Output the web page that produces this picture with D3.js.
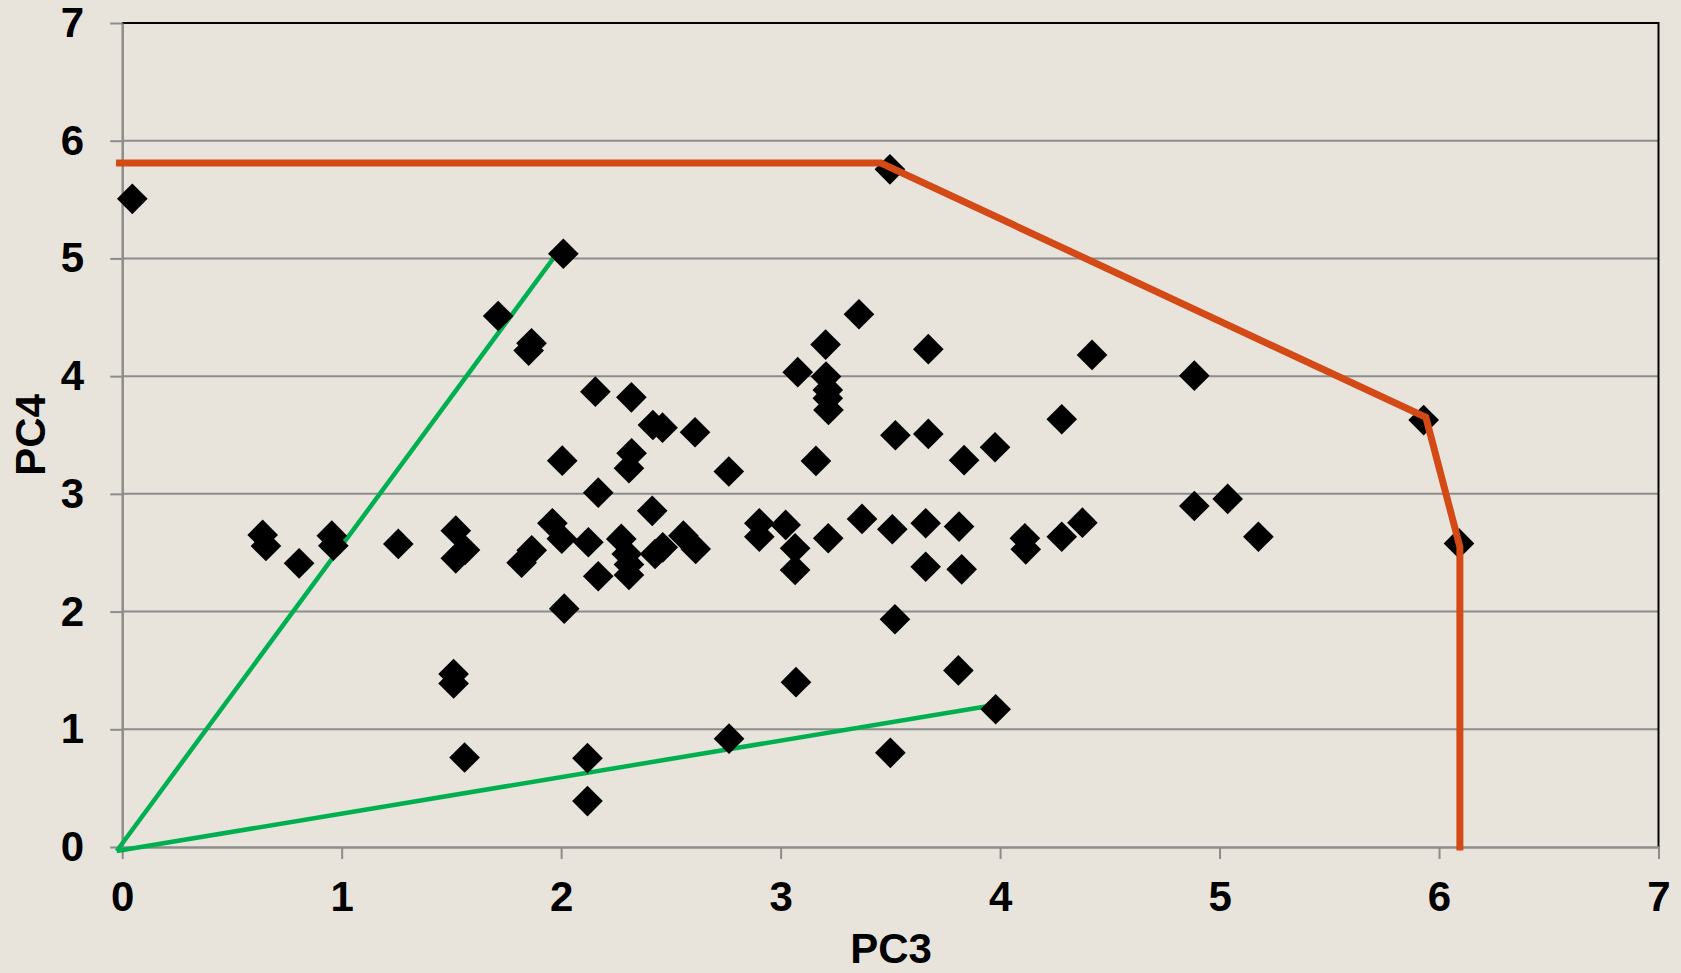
<!DOCTYPE html>
<html lang="en">
<head>
    <meta charset="UTF-8">
    <script src="https://cdn.jsdelivr.net/npm/d3@7"></script>
    <title>PC3 vs PC4</title>
    <style>
        html, body {
            margin: 0;
            padding: 0;
            background: #e8e4dc;
        }

        svg {
            display: block;
        }

        .tick text, .title {
            font-family: "Liberation Sans", Arial, sans-serif;
            font-weight: bold;
            fill: #000;
        }
    </style>
</head>
<body>
<svg width="1681" height="973"></svg>

<script>
    // scatter values
    var pc3 = [0.046, 2.01, 3.498, 1.713, 1.865, 1.852, 3.357, 3.205, 3.673, 4.419,
        3.078, 3.207, 4.885, 2.156, 2.320, 3.215, 3.215, 3.218, 4.281, 5.930,
        2.418, 2.462, 2.610, 3.523, 3.673, 3.977, 2.321, 2.005, 3.161, 3.836,
        2.309, 2.764, 2.169, 5.037, 4.885, 2.415, 3.371, 4.375, 3.661, 3.813,
        1.960, 2.903, 3.023, 0.640, 0.955, 1.520, 3.509, 2.903, 4.281, 5.177,
        3.217, 2.003, 2.274, 2.557, 4.113, 0.655, 0.962, 1.258, 1.562, 2.124,
        2.463, 2.613, 3.066, 4.117, 6.091, 1.866, 2.299, 2.428, 1.520, 0.806,
        1.820, 2.309, 3.066, 3.661, 3.825, 2.169, 2.309, 2.014, 3.521, 3.81,
        1.51, 1.51, 3.07, 3.98, 2.765, 1.56, 2.12, 3.50, 2.12];
    var pc4 = [5.506, 5.04, 5.757, 4.511, 4.279, 4.217, 4.526, 4.268, 4.229, 4.180,
        4.034, 3.996, 4.004, 3.868, 3.820, 3.883, 3.812, 3.713, 3.634, 3.627,
        3.585, 3.562, 3.523, 3.498, 3.509, 3.396, 3.345, 3.282, 3.280, 3.286,
        3.218, 3.190, 3.010, 2.957, 2.897, 2.856, 2.787, 2.755, 2.750, 2.722,
        2.750, 2.750, 2.736, 2.651, 2.645, 2.687, 2.699, 2.636, 2.636, 2.636,
        2.623, 2.619, 2.617, 2.645, 2.623, 2.557, 2.560, 2.575, 2.523, 2.589,
        2.546, 2.532, 2.538, 2.529, 2.579, 2.520, 2.489, 2.489, 2.452, 2.410,
        2.415, 2.311, 2.353, 2.381, 2.359, 2.300, 2.400, 2.025, 1.935, 1.50,
        1.47, 1.39, 1.40, 1.17, 0.92, 0.76, 0.755, 0.80, 0.39];

    // red boundary
    var redX = [-0.028, 3.457, 5.94, 6.095, 6.095];
    var redY = [5.811, 5.811, 3.65, 2.55, -0.03];

    // green lines from the origin
    var greenA = {x: [-0.025, 2.015], y: [-0.034, 5.129]};
    var greenB = {x: [-0.025, 3.976], y: [-0.034, 1.206]};

    var xTicks = [0, 1, 2, 3, 4, 5, 6, 7];
    var yTicks = [0, 1, 2, 3, 4, 5, 6, 7];

    var svg = d3.select("svg");
    var margin = {top: 23, right: 22.5, bottom: 126, left: 122.2};
    var width = 1681 - margin.left - margin.right;
    var height = 973 - margin.top - margin.bottom;

    var x = d3.scaleLinear().domain([0, 7]).range([0, width]);
    var y = d3.scaleLinear().domain([0, 7]).range([height, 0]);

    var g = svg.append("g")
        .attr("transform", "translate(" + margin.left + "," + margin.top + ")");

    // horizontal grid
    g.append("g")
        .selectAll("line")
        .data(yTicks.slice(1, -1))
        .enter()
        .append("line")
        .attr("x1", 0)
        .attr("x2", width)
        .attr("y1", function (d) { return y(d); })
        .attr("y2", function (d) { return y(d); })
        .attr("stroke", "#8c8c8c")
        .attr("stroke-width", 2);

    // top and right border
    g.append("path")
        .attr("d", "M0," + y(7) + "H" + width + "V" + height)
        .attr("fill", "none")
        .attr("stroke", "#000")
        .attr("stroke-width", 2);

    var fmt = d3.format("d");
    var yAxis = g.append("g")
        .call(d3.axisLeft(y).tickValues(yTicks).tickFormat(fmt)
            .tickSize(12).tickPadding(26).tickSizeOuter(0));
    var xAxis = g.append("g")
        .attr("transform", "translate(0," + height + ")")
        .call(d3.axisBottom(x).tickValues(xTicks).tickFormat(fmt)
            .tickSize(12).tickPadding(22).tickSizeOuter(0));

    [xAxis, yAxis].forEach(function (ax) {
        ax.select(".domain").attr("stroke", "#8c8c8c").attr("stroke-width", 2.5);
        ax.selectAll(".tick line").attr("stroke", "#8c8c8c").attr("stroke-width", 2);
        ax.selectAll(".tick text").style("font-size", "42px");
    });

    var line = d3.line()
        .x(function (d) { return x(d[0]); })
        .y(function (d) { return y(d[1]); });

    // green lines
    [greenA, greenB].forEach(function (s) {
        g.append("path")
            .datum(d3.zip(s.x, s.y))
            .attr("d", line)
            .attr("fill", "none")
            .attr("stroke", "#00b050")
            .attr("stroke-width", 4.5);
    });

    // points
    var diamond = d3.symbol().type(d3.symbolSquare).size(470);
    g.append("g")
        .selectAll("path")
        .data(d3.zip(pc3, pc4))
        .enter()
        .append("path")
        .attr("d", diamond)
        .attr("transform", function (d) {
            return "translate(" + x(d[0]) + "," + y(d[1]) + ") rotate(45)";
        })
        .attr("fill", "#000");

    // red boundary
    g.append("path")
        .datum(d3.zip(redX, redY))
        .attr("d", line)
        .attr("fill", "none")
        .attr("stroke", "#d34a17")
        .attr("stroke-width", 7)
        .attr("stroke-linejoin", "miter");

    // axis titles
    svg.append("text")
        .attr("class", "title")
        .attr("x", 891)
        .attr("y", 963)
        .attr("text-anchor", "middle")
        .style("font-size", "42px")
        .text("PC3");

    svg.append("text")
        .attr("class", "title")
        .attr("transform", "translate(45,435) rotate(-90)")
        .attr("text-anchor", "middle")
        .style("font-size", "42px")
        .text("PC4");
</script>
</body>
</html>
